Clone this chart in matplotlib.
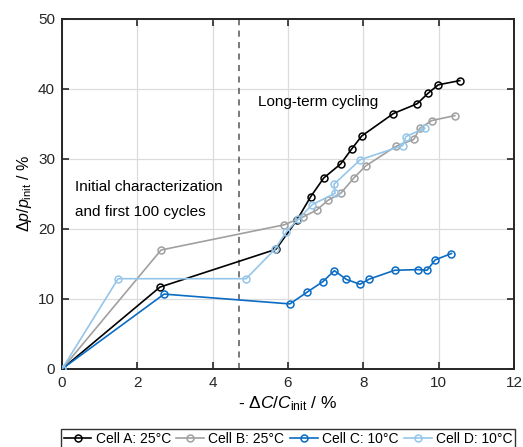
import numpy as np
import matplotlib
matplotlib.use("Agg")
import matplotlib.pyplot as plt

plt.rcParams['font.family'] = ['Liberation Sans', 'DejaVu Sans']
plt.rcParams['mathtext.fontset'] = 'custom'
plt.rcParams['mathtext.rm'] = 'Liberation Sans'
plt.rcParams['mathtext.it'] = 'Liberation Sans:italic'
plt.rcParams['font.size'] = 11

###############################################
# data
###############################################
labels = ["Cell A: 25°C", "Cell B: 25°C", "Cell C: 10°C", "Cell D: 10°C"]
colors = ["#000000", "#a0a0a0", "#0a6cc4", "#95c6ea"]

cell_a_x = [0, 2.6, 5.68, 6.24, 6.6, 6.95, 7.4, 7.7, 7.96, 8.8, 9.43, 9.72, 9.99, 10.56]
cell_a_y = [0, 11.7, 17.1, 21.3, 24.6, 27.3, 29.3, 31.5, 33.3, 36.5, 37.9, 39.4, 40.6, 41.2]

cell_b_x = [0, 2.63, 5.9, 6.39, 6.76, 7.06, 7.4, 7.75, 8.06, 8.86, 9.34, 9.5, 9.82, 10.43]
cell_b_y = [0, 17.0, 20.6, 21.7, 22.7, 24.1, 25.1, 27.3, 29.0, 31.8, 32.8, 34.4, 35.5, 36.2]

cell_c_x = [0, 2.71, 6.05, 6.5, 6.93, 7.23, 7.55, 7.91, 8.16, 8.83, 9.45, 9.69, 9.91, 10.34]
cell_c_y = [0, 10.7, 9.3, 10.95, 12.5, 14.05, 12.8, 12.1, 12.85, 14.1, 14.2, 14.1, 15.6, 16.5]

cell_d_x = [0, 1.49, 4.89, 5.65, 5.96, 6.27, 6.65, 7.25, 7.22, 7.92, 9.04, 9.13, 9.63]
cell_d_y = [0, 12.9, 12.9, 17.1, 19.6, 21.4, 23.5, 25.1, 26.4, 29.9, 31.9, 33.2, 34.4]

xs = [cell_a_x, cell_b_x, cell_c_x, cell_d_x]
ys = [cell_a_y, cell_b_y, cell_c_y, cell_d_y]

x_ticks = [0, 2, 4, 6, 8, 10, 12]
y_ticks = [0, 10, 20, 30, 40, 50]
split_x = 4.7

W, H = 523, 447
fig = plt.figure(figsize=(W / 100, H / 100), dpi=100)
ax = fig.add_axes([62 / W, 1 - 369 / H, (514 - 62) / W, (369 - 19) / H])

for x, y, c, lab in zip(xs, ys, colors, labels):
    ax.plot(x, y, '-o', color=c, lw=1.2, ms=5, mfc='none', mew=1.1, label=lab, zorder=3)

ax.axvline(split_x, color='#555555', ls=(0, (4, 3.5)), lw=1.1, zorder=2)

ax.text(5.2, 38.1, "Long-term cycling", va='center', ha='left', fontsize=11)
ax.text(0.35, 26.0, "Initial characterization", va='center', ha='left', fontsize=11)
ax.text(0.35, 22.4, "and first 100 cycles", va='center', ha='left', fontsize=11)

ax.set_xlim(0, 12)
ax.set_ylim(0, 50)
ax.set_xticks(x_ticks)
ax.set_yticks(y_ticks)
ax.grid(True, color='#dcdcdc', lw=0.9, zorder=0)
ax.set_axisbelow(True)
ax.tick_params(direction='in', top=True, right=True, length=5, width=1.2,
               labelsize=11, colors='#262626', pad=5)
for s in ax.spines.values():
    s.set_linewidth(1.4)
    s.set_color('#262626')

ax.set_xlabel(r"- $\mathit{\Delta C/C}_{\rm init}$ / %", fontsize=12.5, labelpad=3)
ax.set_ylabel(r"$\Delta p/p_{\rm init}$ / %", fontsize=11.5, labelpad=3)

leg = fig.legend(loc='upper center', bbox_to_anchor=(288 / W, 1 - 429 / H), ncol=4,
                 frameon=True, fancybox=False, edgecolor='black', fontsize=10,
                 handlelength=2.0, handletextpad=0.3, columnspacing=0.4,
                 borderpad=0.2, borderaxespad=0)
leg.get_frame().set_linewidth(1.0)

fig.savefig("out.png", dpi=100)
